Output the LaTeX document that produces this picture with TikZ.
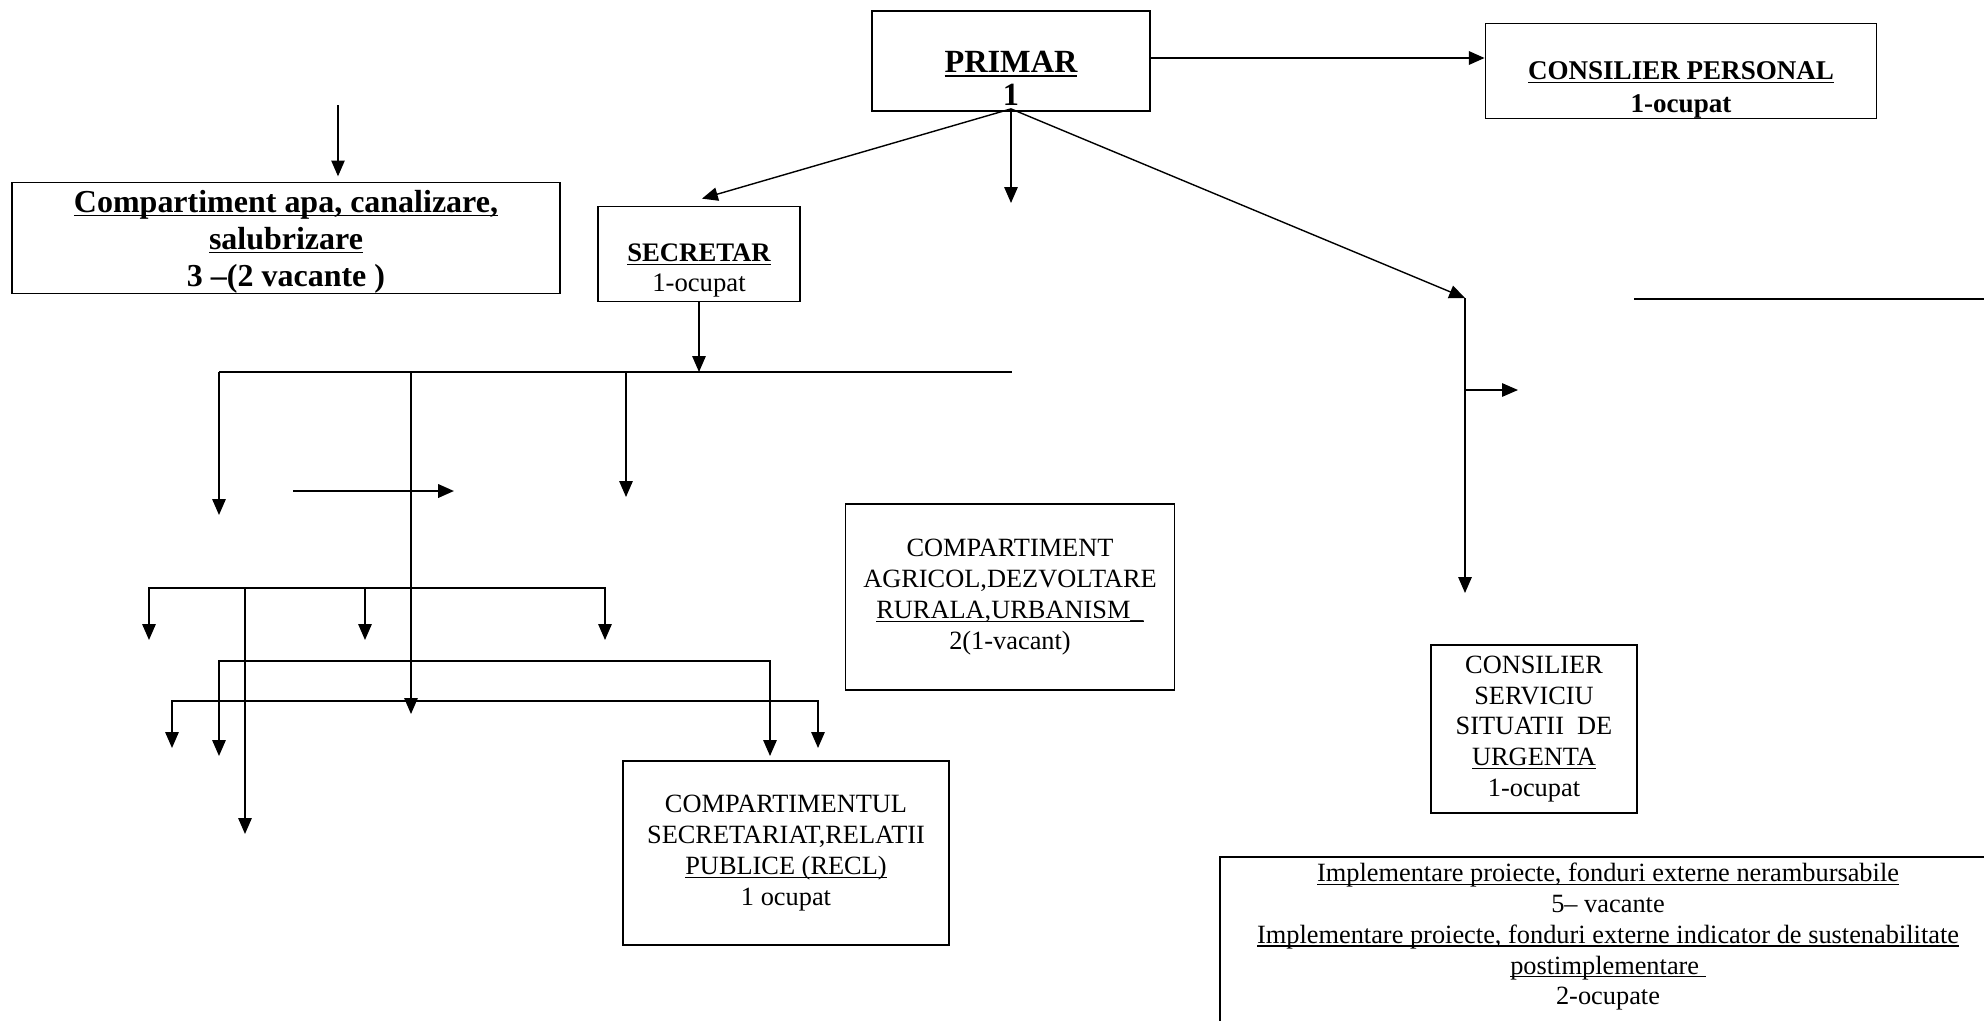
\documentclass[tikz,border=0pt]{standalone}
\usepackage{fontspec}
\setmainfont{Liberation Serif}
\usetikzlibrary{arrows.meta}

\newcommand\nrm{\fontsize{7.5pt}{8.8pt}\selectfont}
\newcommand\uln[1]{\leavevmode\setbox0=\hbox{#1}\rlap{\rule[-0.13em]{\wd0}{0.045em}}\box0}

\begin{document}
\begin{tikzpicture}[x=0.1mm, y=-0.1mm, line width=0.4pt,
    box/.style={draw, line width=0.5pt, inner sep=0pt, align=center},
    arr/.style={-{Triangle[length=4.5pt,width=3.8pt]}},
    arrs/.style={{Triangle[length=4.5pt,width=3.8pt]}-{Triangle[length=4.5pt,width=3.8pt]}}]
        \useasboundingbox (0,0) rectangle (1984,1021);
        \clip (0,0) rectangle (1984,1021);

        % Boxes
        \node[box, minimum width=27.8mm, minimum height=10mm,
          font={\fontsize{9.2pt}{9.3pt}\selectfont\bfseries}] (primar) at (1011,61)
          {\strut\\\uln{PRIMAR}\\1};
        \node[box, minimum width=39.1mm, minimum height=9.4mm,
          font={\fontsize{7.7pt}{9.4pt}\selectfont\bfseries}] (cp) at (1681,71)
          {\strut\\\uln{CONSILIER PERSONAL}\\1-ocupat};
        \node[box, minimum width=54.8mm, minimum height=11.1mm, text depth=0pt,
          font={\fontsize{9.1pt}{10.5pt}\selectfont\bfseries}] (apa) at (286,238)
          {\uln{Compartiment apa, canalizare,}\\\uln{salubrizare}\\3 –(2 vacante )};
        \node[box, minimum width=20.2mm, minimum height=9.5mm,
          font={\fontsize{7.6pt}{8.5pt}\selectfont}] (secretar) at (699,254)
          {\strut\\\textbf{\uln{SECRETAR}}\\1-ocupat};
        \node[box, minimum width=32.9mm, minimum height=18.6mm, font=\nrm] (agricol) at (1010,597)
          {COMPARTIMENT\\AGRICOL,DEZVOLTARE\\\uln{RURALA,URBANISM\_}\\2(1-vacant)};
        \node[box, minimum width=32.6mm, minimum height=18.4mm, font=\nrm] (secretariat) at (786,853)
          {COMPARTIMENTUL\\SECRETARIAT,RELATII\\\uln{PUBLICE (RECL)}\\1 ocupat};
        \node[box, minimum width=20.6mm, minimum height=16.8mm, font=\nrm] (urgenta) at (1534,729)
          {CONSILIER\\SERVICIU\\SITUATII\ \ DE\\\uln{URGENTA}\\1-ocupat};
        \node[align=center, inner xsep=0pt, inner ysep=0.5mm, minimum width=77.4mm,
          font=\nrm, anchor=north] (proiecte) at (1608,857)
          {\uln{Implementare proiecte, fonduri externe nerambursabile}\\5– vacante\\
           \uln{Implementare proiecte, fonduri externe indicator de sustenabilitate}\\
           \uln{postimplementare\ }\\2-ocupate};
        \draw[line width=0.5pt] (proiecte.north west) rectangle ([yshift=-5mm]proiecte.south east);

        % Primar
        \coordinate (fork) at ([yshift=0.3mm]primar.south);
        \coordinate (fork-down) at (1011,203);
        \coordinate (urg-top) at (1465,298);
        \coordinate (urg-mid) at (1465,390);
        \coordinate (urg-side) at (1518,390);
        \coordinate (urg-end) at (1465,593);
        \coordinate (rl-a) at (1634,299);
        \coordinate (rl-b) at (1984,299);
        \draw[arr, line width=0.65pt] ([yshift=0.3mm]primar.east) -- ([yshift=0.3mm]primar.east -| cp.west);
        \draw[arr] (fork) -- ([xshift=0.3mm, yshift=0.7mm]secretar.north);
        \draw[arr] (fork) -- (fork-down);
        \draw[arr] (fork) -- (urg-top);
        \draw[arr] (urg-top) -- (urg-end);
        \draw[arr] (urg-mid) -- (urg-side);
        \draw[line width=0.65pt] (rl-a) -- (rl-b);

        % Apa
        \coordinate (apa-in) at (338,105);
        \draw[arr, shorten >=1.5pt] (apa-in) -- (apa-in |- apa.north);

        % Secretar
        \coordinate (s1-l) at (219,372);
        \coordinate (s1-r) at (1012,372);
        \coordinate (s1-a) at (219,515);
        \coordinate (s1-b0) at (411,372);
        \coordinate (s1-b) at (411,714);
        \coordinate (s1-c0) at (626,372);
        \coordinate (s1-c) at (626,497);
        \coordinate (h-a) at (293,491);
        \coordinate (h-b) at (454,491);
        \draw (s1-l) -- (s1-r);
        \draw[arr] (secretar.south) -- (secretar.south |- s1-l);
        \draw[arr] (s1-l) -- (s1-a);
        \draw[arr] (s1-b0) -- (s1-b);
        \draw[arr] (s1-c0) -- (s1-c);
        \draw[arr, line width=0.65pt] (h-a) -- (h-b);

        \coordinate (s2-a) at (149,640);
        \coordinate (s2-l) at (149,588);
        \coordinate (s2-r) at (605,588);
        \coordinate (s2-c) at (605,640);
        \coordinate (s2-b0) at (365,588);
        \coordinate (s2-b) at (365,640);
        \coordinate (s2-d0) at (245,588);
        \coordinate (s2-d) at (245,834);
        \draw[arrs] (s2-a) -- (s2-l) -- (s2-r) -- (s2-c);
        \draw[arr] (s2-b0) -- (s2-b);
        \draw[arr] (s2-d0) -- (s2-d);

        \coordinate (s3-a) at (219,756);
        \coordinate (s3-l) at (219,661);
        \coordinate (s3-r) at (770,661);
        \coordinate (s3-b) at (770,756);
        \draw[arrs] (s3-a) -- (s3-l) -- (s3-r) -- (s3-b);

        \coordinate (s4-a) at (172,748);
        \coordinate (s4-l) at (172,701);
        \coordinate (s4-r) at (818,701);
        \coordinate (s4-b) at (818,748);
        \draw[arrs] (s4-a) -- (s4-l) -- (s4-r) -- (s4-b);
    \end{tikzpicture}
\end{document}
